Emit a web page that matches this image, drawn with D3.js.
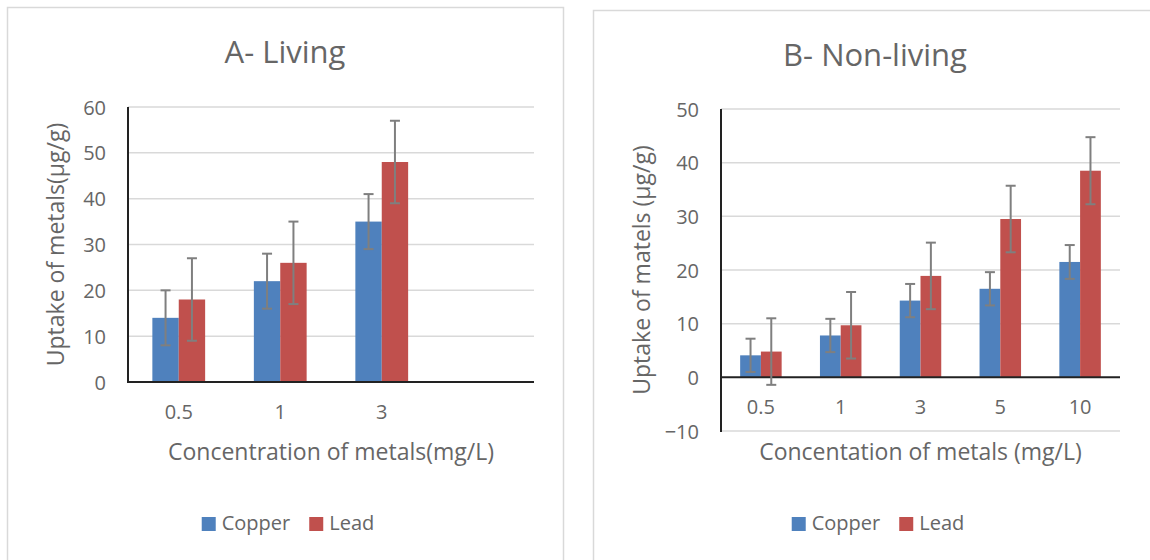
<!DOCTYPE html>
<html>
<head>
<meta charset="utf-8">
<script src="https://cdn.jsdelivr.net/npm/d3@7"></script>
<style>
  body { margin: 0; background: #fff; }
  svg text { font-family: "Open Sans", "Noto Sans", sans-serif; fill: #666; }
</style>
</head>
<body>
<svg id="chart" width="1150" height="560"></svg>
<script>
// values
let seriesNames = ['Copper', 'Lead'];
let seriesColors = ['#4F81BD', '#C0504D'];

let livingCats = ['0.5', '1', '3', ''];
let livingCopper = [14, 22, 35];
let livingLead = [18, 26, 48];
let livingCopperErr = [6, 6, 6];
let livingLeadErr = [9, 9, 9];
let livingTicks = [0, 10, 20, 30, 40, 50, 60];

let nonLivingCats = ['0.5', '1', '3', '5', '10'];
let nonLivingCopper = [4.1, 7.8, 14.3, 16.5, 21.5];
let nonLivingLead = [4.8, 9.7, 18.9, 29.5, 38.5];
let nonLivingCopperErr = [3.1, 3.1, 3.1, 3.1, 3.15];
let nonLivingLeadErr = [6.2, 6.2, 6.2, 6.2, 6.25];
let nonLivingTicks = [-10, 0, 10, 20, 30, 40, 50];

let svg = d3.select('#chart');

function drawPanel(p){
  let g = svg.append('g').attr('class', 'panel');

  // panel frame
  g.append('rect')
    .attr('x', p.box[0] + 0.5).attr('y', p.box[1] + 0.5)
    .attr('width', p.box[2]).attr('height', p.box[3])
    .style('fill', 'none').style('stroke', '#D9D9D9').style('stroke-width', 1.5);

  let cx = p.box[0] + p.box[2] / 2;

  g.append('text')
    .attr('x', cx).attr('y', p.titleY)
    .attr('text-anchor', 'middle')
    .style('font-size', '31px')
    .text(p.title);

  let x = d3.scaleBand()
    .domain(p.cats)
    .range([p.plot.left, p.plot.right])
    .paddingInner(0.48)
    .paddingOuter(0.24);

  let xSub = d3.scaleBand()
    .domain(seriesNames)
    .range([0, x.bandwidth()]);

  let y = d3.scaleLinear()
    .domain([p.ticks[0], p.ticks[p.ticks.length - 1]])
    .range([p.plot.bottom, p.plot.top]);

  // gridlines
  g.append('g')
    .selectAll('line')
    .data(p.ticks.filter(function(t){ return t !== 0; }))
    .enter().append('line')
      .attr('x1', p.plot.left).attr('x2', p.plot.right)
      .attr('y1', function(d){ return y(d); })
      .attr('y2', function(d){ return y(d); })
      .style('stroke', '#D9D9D9').style('stroke-width', 1.5);

  // y axis, labels only
  let yAxis = g.append('g')
    .attr('transform', 'translate(' + (p.plot.left - 22) + ',0)')
    .call(d3.axisLeft(y).tickValues(p.ticks).tickSize(0).tickPadding(0));
  yAxis.select('.domain').remove();
  yAxis.selectAll('text')
    .attr('dy', '0.35em')
    .style('font-size', '20px')
    .style('fill', '#666');

  // bars
  let series = [
    { name: 'Copper', vals: p.copper, err: p.copperErr, color: seriesColors[0] },
    { name: 'Lead', vals: p.lead, err: p.leadErr, color: seriesColors[1] }
  ];

  series.forEach(function(s){
    let rows = s.vals.map(function(v, i){ return { cat: p.cats[i], v: v, e: s.err[i] }; });

    g.append('g')
      .selectAll('rect')
      .data(rows)
      .enter().append('rect')
        .attr('x', function(d){ return x(d.cat) + xSub(s.name); })
        .attr('y', function(d){ return y(Math.max(0, d.v)); })
        .attr('width', xSub.bandwidth())
        .attr('height', function(d){ return Math.abs(y(d.v) - y(0)); })
        .style('fill', s.color);
  });

  // x axis line at zero, then y axis line
  g.append('line')
    .attr('x1', p.plot.left).attr('x2', p.plot.right)
    .attr('y1', y(0)).attr('y2', y(0))
    .style('stroke', '#222').style('stroke-width', 2);

  g.append('line')
    .attr('x1', p.plot.left).attr('x2', p.plot.left)
    .attr('y1', p.plot.top).attr('y2', p.plot.bottom + 1)
    .style('stroke', '#222').style('stroke-width', 2);

  // error bars
  series.forEach(function(s){
    let rows = s.vals.map(function(v, i){ return { cat: p.cats[i], v: v, e: s.err[i] }; });
    let eg = g.append('g').selectAll('g')
      .data(rows)
      .enter().append('g')
        .attr('transform', function(d){
          return 'translate(' + (x(d.cat) + xSub(s.name) + xSub.bandwidth() / 2) + ',0)';
        });
    eg.append('line')
      .attr('y1', function(d){ return y(d.v + d.e); })
      .attr('y2', function(d){ return y(d.v - d.e); });
    eg.append('line')
      .attr('x1', -5).attr('x2', 5)
      .attr('y1', function(d){ return y(d.v + d.e); })
      .attr('y2', function(d){ return y(d.v + d.e); });
    eg.append('line')
      .attr('x1', -5).attr('x2', 5)
      .attr('y1', function(d){ return y(d.v - d.e); })
      .attr('y2', function(d){ return y(d.v - d.e); });
    eg.selectAll('line').style('stroke', '#7F7F7F').style('stroke-width', 2);
  });

  // category labels sit under the zero line
  let xAxis = g.append('g')
    .attr('transform', 'translate(0,' + (y(0) + 37) + ')')
    .call(d3.axisBottom(x).tickSize(0).tickPadding(0));
  xAxis.select('.domain').remove();
  xAxis.selectAll('text')
    .attr('dy', 0)
    .style('font-size', '20px')
    .style('fill', '#666');

  // axis titles
  g.append('text')
    .attr('x', (p.plot.left + p.plot.right) / 2).attr('y', 460)
    .attr('text-anchor', 'middle')
    .style('font-size', '23px')
    .text(p.xTitle);

  g.append('text')
    .attr('transform', 'translate(' + (p.box[0] + 57) + ',' + ((p.plot.top + p.plot.bottom) / 2) + ') rotate(-90)')
    .attr('text-anchor', 'middle')
    .style('font-size', '23px')
    .text(p.yTitle);

  // legend
  let leg = g.append('g');
  let offset = 0;
  seriesNames.forEach(function(name, i){
    let item = leg.append('g').attr('transform', 'translate(' + offset + ',0)');
    item.append('rect')
      .attr('x', 0).attr('y', -13)
      .attr('width', 14).attr('height', 14)
      .style('fill', seriesColors[i]);
    let t = item.append('text')
      .attr('x', 20).attr('y', 0)
      .style('font-size', '20px')
      .text(name);
    offset += 20 + t.node().getComputedTextLength() + 19;
  });
  let lw = leg.node().getBBox().width;
  leg.attr('transform', 'translate(' + (cx + 3 - lw / 2) + ',530)');
}

drawPanel({
  box: [7, 7, 556, 560],
  titleY: 63,
  title: 'A- Living',
  cats: livingCats,
  copper: livingCopper, lead: livingLead,
  copperErr: livingCopperErr, leadErr: livingLeadErr,
  ticks: livingTicks,
  plot: { left: 128, right: 534, top: 107, bottom: 382 },
  xTitle: 'Concentration of metals(mg/L)',
  yTitle: 'Uptake of metals(\u03bcg/g)'
});

drawPanel({
  box: [593, 10, 564, 560],
  titleY: 66,
  title: 'B- Non-living',
  cats: nonLivingCats,
  copper: nonLivingCopper, lead: nonLivingLead,
  copperErr: nonLivingCopperErr, leadErr: nonLivingLeadErr,
  ticks: nonLivingTicks,
  plot: { left: 721, right: 1120, top: 109, bottom: 431 },
  xTitle: 'Concentation of metals (mg/L)',
  yTitle: 'Uptake of matels (\u03bcg/g)'
});
</script>
</body>
</html>
